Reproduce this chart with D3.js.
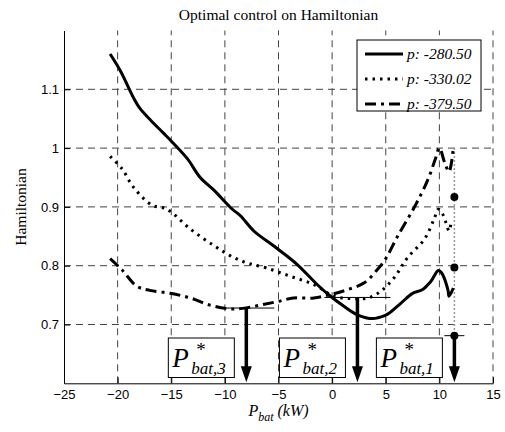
<!DOCTYPE html>
<html>
<head>
<meta charset="utf-8">
<script src="https://cdn.jsdelivr.net/npm/d3@7"></script>
<style>
  html, body { margin: 0; padding: 0; background: #fff; }
  svg { display: block; }
</style>
</head>
<body>
<div id="chart"></div>
<script>
// ---------- data ----------
const xTicks = [-25, -20, -15, -10, -5, 0, 5, 10, 15];
const yTicks = [0.7, 0.8, 0.9, 1.0, 1.1];
const yTickLabels = ["0.7", "0.8", "0.9", "1", "1.1"];

const seriesNames = ["p: -280.50", "p: -330.02", "p: -379.50"];

const solidX = [-20.7,-19.7,-18.5,-17.9,-16.9,-15.7,-14.9,-13.5,-12.3,-11.0,-9.3,-8.55,-7.3,-5.4,-3.25,-1.4,-0.15,1.1,2.4,3.8,4.9,5.3,6.4,7.5,8.4,9.2,9.9,10.2,10.8,10.9,11.3];
const solidH = [1.160,1.130,1.085,1.067,1.047,1.025,1.010,0.982,0.950,0.928,0.896,0.885,0.859,0.833,0.802,0.768,0.748,0.731,0.716,0.710,0.715,0.719,0.736,0.753,0.759,0.773,0.792,0.788,0.759,0.748,0.762];

const dottedX = [-20.7,-19.6,-18.5,-16.8,-15.4,-13.2,-11.0,-9.2,-7.8,-6.1,-3.9,-1.7,0.2,1.7,3.3,4.5,5.8,7.0,8.6,9.5,9.9,10.3,10.6,10.9,11.1];
const dottedH = [0.986,0.965,0.933,0.903,0.896,0.862,0.834,0.814,0.804,0.796,0.782,0.768,0.748,0.744,0.745,0.756,0.780,0.813,0.845,0.879,0.896,0.888,0.874,0.859,0.874];

const dashdotX = [-20.7,-19.6,-18.2,-17.0,-15.1,-13.2,-11.4,-9.8,-8.55,-6.7,-5.1,-3.6,-1.7,-0.15,1.4,3.0,4.2,5.0,6.1,7.65,8.9,9.6,10.0,10.5,10.9,11.3];
const dashdotH = [0.812,0.793,0.765,0.758,0.753,0.745,0.733,0.727,0.727,0.733,0.739,0.745,0.745,0.751,0.759,0.771,0.793,0.812,0.850,0.899,0.945,0.980,1.000,0.975,0.960,1.000];

// optimal points (arrows)
const optLabels = ["1", "2", "3"];
const optP = [11.4, 2.36, -8.0];
const optH = [0.681, 0.746, 0.728];

// Hamiltonian values at max power (black dots)
const dotP = 11.4;
const dotH = [0.917, 0.797, 0.681];

// ---------- layout ----------
const W = 505, H = 432;
const svg = d3.select("#chart").append("svg").attr("width", W).attr("height", H);

const x = d3.scaleLinear().domain([-25, 15]).range([64, 493]);
const y = d3.scaleLinear().domain([0.6, 1.2]).range([383.3, 30.5]);

const serif = "'Liberation Serif', 'Times New Roman', serif";
const sans = "'Liberation Sans', Arial, sans-serif";

// grid
const grid = svg.append("g");
grid.selectAll("line.v").data(xTicks.filter(d => d > -25)).enter().append("line")
  .attr("x1", d => x(d)).attr("x2", d => x(d))
  .attr("y1", y.range()[0]).attr("y2", y.range()[1])
  .attr("stroke", "#444").attr("stroke-width", 1).attr("stroke-dasharray", "7,5");
grid.selectAll("line.h").data(yTicks).enter().append("line")
  .attr("x1", x.range()[0]).attr("x2", x.range()[1])
  .attr("y1", d => y(d)).attr("y2", d => y(d))
  .attr("stroke", "#444").attr("stroke-width", 1).attr("stroke-dasharray", "7,5");

// axes
const xAxis = d3.axisBottom(x).tickValues(xTicks).tickSize(-6).tickSizeOuter(0).tickPadding(6);
const gx = svg.append("g").attr("transform", `translate(0,${y.range()[0]})`).call(xAxis);
gx.selectAll("text").attr("font-family", sans).attr("font-size", 13).attr("fill", "#000");
gx.select(".domain").attr("stroke", "#000");
gx.selectAll(".tick line").attr("stroke", "#000");

const yAxis = d3.axisLeft(y).tickValues(yTicks).tickFormat((d, i) => yTickLabels[i]).tickSize(-6).tickSizeOuter(0).tickPadding(5);
const gy = svg.append("g").attr("transform", `translate(${x.range()[0]},0)`).call(yAxis);
gy.selectAll("text").attr("font-family", sans).attr("font-size", 13).attr("fill", "#000");
gy.select(".domain").attr("stroke", "#000");
gy.selectAll(".tick line").attr("stroke", "#000");

// gray dotted vertical at max power
svg.append("line")
  .attr("x1", x(dotP)).attr("x2", x(dotP))
  .attr("y1", y(1.0)).attr("y2", y(dotH[2]))
  .attr("stroke", "#999").attr("stroke-width", 1.5).attr("stroke-dasharray", "2,2");

// curves
const line = d3.line().x(d => x(d[0])).y(d => y(d[1])).curve(d3.curveCatmullRom.alpha(0.5));
const series = [
  { xs: solidX, hs: solidH, dash: null },
  { xs: dottedX, hs: dottedH, dash: "2.5,5" },
  { xs: dashdotX, hs: dashdotH, dash: "11,5,3,5" }
];
series.forEach(s => {
  svg.append("path")
    .datum(s.xs.map((v, i) => [v, s.hs[i]]))
    .attr("d", line)
    .attr("fill", "none").attr("stroke", "#000").attr("stroke-width", 3)
    .attr("stroke-dasharray", s.dash);
});

// black dots
svg.selectAll("circle.dot").data(dotH).enter().append("circle")
  .attr("cx", x(dotP)).attr("cy", d => y(d)).attr("r", 4).attr("fill", "#000");

// arrows with horizontal markers
const halfW = [10, 33, 28];
optP.forEach((p, i) => {
  const ax = x(p), ay = y(optH[i]);
  const by = y.range()[0] - 1;
  svg.append("line").attr("x1", ax - halfW[i]).attr("x2", ax + halfW[i])
    .attr("y1", ay).attr("y2", ay).attr("stroke", "#000").attr("stroke-width", 1);
  svg.append("line").attr("x1", ax).attr("x2", ax)
    .attr("y1", ay).attr("y2", by - 14)
    .attr("stroke", "#000").attr("stroke-width", 3.5);
  svg.append("path")
    .attr("d", `M${ax - 5.5},${by - 16} L${ax + 5.5},${by - 16} L${ax},${by} Z`)
    .attr("fill", "#000");

  // label box
  const bx1 = ax - 78, bx2 = ax - 12;
  const bTop = 338, bBot = 377.5;
  svg.append("rect").attr("x", bx1).attr("y", bTop).attr("width", bx2 - bx1).attr("height", bBot - bTop)
    .attr("fill", "#fff").attr("stroke", "#000").attr("stroke-width", 1);
  svg.append("text").attr("x", bx1 + 4).attr("y", 367)
    .attr("font-family", serif).attr("font-style", "italic").attr("font-size", 27).attr("fill", "#000")
    .text("P");
  svg.append("text").attr("x", bx1 + 28).attr("y", 356)
    .attr("font-family", serif).attr("font-size", 19).attr("fill", "#000")
    .text("*");
  svg.append("text").attr("x", bx1 + 23).attr("y", 374)
    .attr("font-family", serif).attr("font-style", "italic").attr("font-size", 17).attr("fill", "#000")
    .text("bat," + optLabels[i]);
});

// legend
const lg = svg.append("g");
lg.append("rect").attr("x", 357).attr("y", 40).attr("width", 124).attr("height", 71)
  .attr("fill", "#fff").attr("stroke", "#000").attr("stroke-width", 1);
series.forEach((s, i) => {
  const ly = 54 + i * 25;
  lg.append("line").attr("x1", 365).attr("x2", 403).attr("y1", ly).attr("y2", ly)
    .attr("stroke", "#000").attr("stroke-width", 3).attr("stroke-dasharray", s.dash);
  lg.append("text").attr("x", 407).attr("y", ly + 5)
    .attr("font-family", serif).attr("font-style", "italic").attr("font-size", 15.5)
    .text(seriesNames[i]);
});

// title
svg.append("text").attr("x", 278.5).attr("y", 20).attr("text-anchor", "middle")
  .attr("font-family", serif).attr("font-size", 15.5).text("Optimal control on Hamiltonian");

// y label
svg.append("text").attr("transform", "translate(26,207) rotate(-90)").attr("text-anchor", "middle")
  .attr("font-family", serif).attr("font-size", 15.5).text("Hamiltonian");

// x label
const xl = svg.append("text").attr("x", 278.5).attr("y", 416).attr("text-anchor", "middle")
  .attr("font-family", serif).attr("font-style", "italic").attr("font-size", 16);
xl.append("tspan").text("P");
xl.append("tspan").attr("font-size", 12).attr("dy", 5).text("bat");
xl.append("tspan").attr("dy", -5).text(" (kW)");
</script>
</body>
</html>
